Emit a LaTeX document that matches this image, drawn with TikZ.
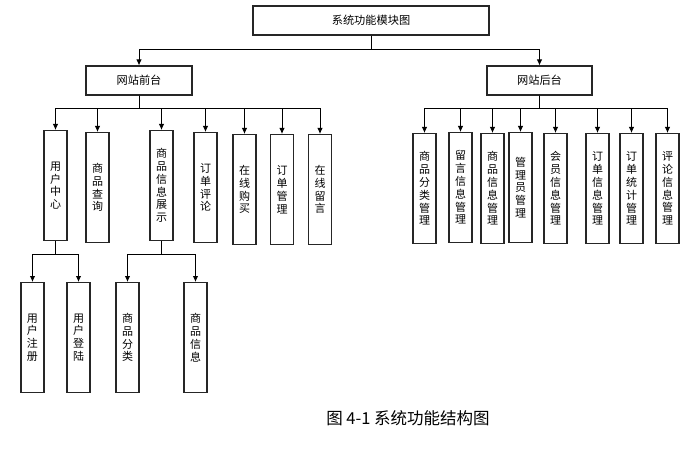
\documentclass[tikz,border=0pt]{standalone}
\usepackage{fontspec}
\setmainfont{Noto Sans CJK SC}
\usetikzlibrary{arrows.meta}
\tikzset{
  box/.style={draw=black!85, line width=1.1pt, inner sep=0pt, font=\fontsize{11.2pt}{12pt}\selectfont},
  vbox/.style={box, anchor=north, minimum width=23pt, minimum height=110pt, align=center, font=\fontsize{11pt}{12.8pt}\selectfont},
  arr/.style={-{Latex[length=6pt,width=5.5pt]}, line width=0.9pt}
}

\begin{document}
\begin{tikzpicture}[x=1pt,y=-1pt]
  \useasboundingbox (0,0) rectangle (698,462);
  \node[box, minimum width=236pt, minimum height=29pt] (sys) at (371,20.5) {系统功能模块图};
  \node[box, minimum width=106pt, minimum height=29pt] (front) at (139,80.5) {网站前台};
  \node[box, minimum width=105pt, minimum height=29pt] (back) at (539.5,80.5) {网站后台};
  \draw[arr] (sys.south) -- ++(0,14) -| (front.north);
  \draw[arr] (sys.south) -- ++(0,14) -| (back.north);

  \node[vbox] (yhzx) at (55.5,130) {用\\户\\中\\心};
  \node[vbox] (spcx) at (97.5,132) {商\\品\\查\\询};
  \node[vbox] (spzs) at (161.5,130) {商\\品\\信\\息\\展\\示};
  \node[vbox] (ddpl) at (205.5,132) {订\\单\\评\\论};
  \node[vbox] (zxgm) at (244.5,134) {在\\线\\购\\买};
  \node[vbox] (ddgl) at (282,134) {订\\单\\管\\理};
  \node[vbox] (zxly) at (320,134) {在\\线\\留\\言};
  \foreach \c in {yhzx,spcx,spzs,ddpl,zxgm,ddgl,zxly}
    \draw[arr] (front.south) -- ++(0,13) -| (\c.north);

  \node[vbox] (flgl) at (424.5,133) {商\\品\\分\\类\\管\\理};
  \node[vbox] (lygl) at (460.5,132) {留\\言\\信\\息\\管\\理};
  \node[vbox] (spgl) at (492.5,133) {商\\品\\信\\息\\管\\理};
  \node[vbox] (glygl) at (520.5,132) {管\\理\\员\\管\\理};
  \node[vbox] (hygl) at (555.5,133) {会\\员\\信\\息\\管\\理};
  \node[vbox] (ddxx) at (597.5,133) {订\\单\\信\\息\\管\\理};
  \node[vbox] (ddtj) at (631.5,133) {订\\单\\统\\计\\管\\理};
  \node[vbox] (plgl) at (667.5,133) {评\\论\\信\\息\\管\\理};
  \foreach \c in {flgl,lygl,spgl,glygl,hygl,ddxx,ddtj,plgl}
    \draw[arr] (back.south) -- ++(0,13) -| (\c.north);

  \node[vbox] (yhzc) at (32.5,282) {用\\户\\注\\册};
  \node[vbox] (yhdl) at (78.5,282) {用\\户\\登\\陆};
  \node[vbox] (spfl) at (127.5,282) {商\\品\\分\\类};
  \node[vbox] (spxx) at (195.5,282) {商\\品\\信\\息};
  \foreach \c in {yhzc,yhdl}
    \draw[arr] (yhzx.south) -- ++(0,13) -| (\c.north);
  \foreach \c in {spfl,spxx}
    \draw[arr] (spzs.south) -- ++(0,13) -| (\c.north);

  \node[font=\fontsize{16.5pt}{18pt}\selectfont] (cap) at (408,418) {图 4-1 系统功能结构图};
\end{tikzpicture}
\end{document}
